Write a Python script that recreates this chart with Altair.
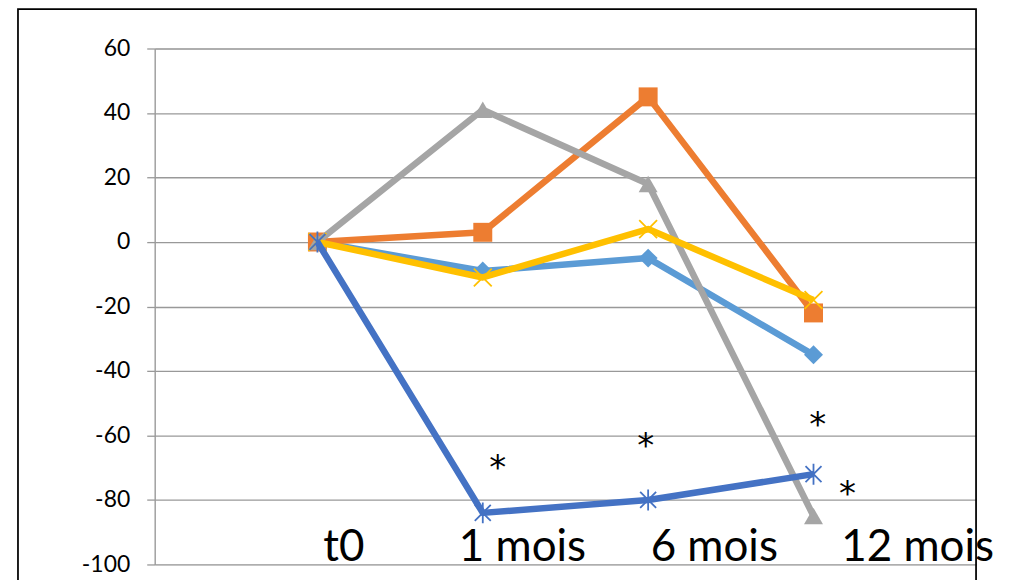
import altair as alt
import pandas as pd

# ---- data ----
categories = ["t0", "1 mois", "6 mois", "12 mois"]
cat_index = [0, 1, 2, 3]
series_names = ["Série 1", "Série 2", "Série 3", "Série 4", "Série 5"]
serie1 = [0, -9, -5, -35]     # light blue, diamond
serie2 = [0, 3, 45, -22]      # orange, square
serie3 = [0, 41, 18, -85]     # gray, triangle
serie4 = [0, -11, 4, -18]     # gold, x
serie5 = [0, -84, -80, -72]   # dark blue, star
series_values = [serie1, serie2, serie3, serie4, serie5]
colors = ["#5B9BD5", "#ED7D31", "#A5A5A5", "#FFC000", "#4472C4"]

label_x = [0.16, 1.24, 2.40, 3.63]
label_y = [-98.8, -98.8, -98.8, -98.8]
star_x = [1.09, 1.985, 3.025, 3.205]
star_y = [-73.6, -66.6, -60.1, -81.7]
y_ticks = [-100, -80, -60, -40, -20, 0, 20, 40, 60]

# ---- build tables ----
rows = []
for name, vals in zip(series_names, series_values):
    for i, c, v in zip(cat_index, categories, vals):
        rows.append({"serie": name, "idx": i, "cat": c, "val": v})
df = pd.DataFrame(rows)
labels_df = pd.DataFrame({"label": categories, "x": label_x, "y": label_y})
stars_df = pd.DataFrame({"x": star_x, "y": star_y})

FONT = "Lato"
xscale = alt.Scale(domain=[-0.984, 3.983], nice=False, zero=False)
yscale = alt.Scale(domain=[-100, 60], nice=False, zero=False)

X = alt.X("idx:Q", scale=xscale, axis=None)
Y = alt.Y("val:Q", scale=yscale,
          axis=alt.Axis(values=y_ticks, title=None, grid=True, gridColor="#999999",
                        gridWidth=1.3, domainColor="#999999", domainWidth=1.3,
                        tickColor="#999999", tickWidth=1.3, tickSize=8,
                        labelFont=FONT, labelFontSize=23, labelColor="#000000",
                        labelPadding=17, labelExpr="'' + datum.value"))

star_path = "M-0.8,-0.8L0.8,0.8M-0.8,0.8L0.8,-0.8M0,-1.05L0,1.05"
x_path = "M-1,-1L1,1M-1,1L1,-1"
markers = [
    dict(shape="diamond", size=361, filled=True, strokeWidth=0),
    dict(shape="square", size=361, filled=True, strokeWidth=0),
    dict(shape="triangle-up", size=361, filled=True, strokeWidth=0),
    dict(shape=x_path, size=320, filled=False, strokeWidth=1.8),
    dict(shape=star_path, size=400, filled=False, strokeWidth=1.8),
]

base = alt.Chart(df)
layers = []
# frame
frame = alt.Chart(alt.Data(values=[{"f": 1}])).mark_rect(
    filled=False, stroke="#000000", strokeWidth=1.75
).encode(x=alt.value(-137), x2=alt.value(823), y=alt.value(-39.5), y2=alt.value(620))
layers.append(frame)

for name, col, mk in zip(series_names, colors, markers):
    sub = base.transform_filter(alt.datum.serie == name)
    line = sub.mark_line(color=col, strokeWidth=6.5, strokeJoin="round").encode(x=X, y=Y, order="idx:Q")
    pts = sub.mark_point(color=col, opacity=1, shape=mk["shape"], size=mk["size"],
                         filled=mk["filled"], strokeWidth=mk["strokeWidth"]).encode(x=X, y=Y)
    layers += [line, pts]

xlabels = alt.Chart(labels_df).mark_text(
    font=FONT, fontSize=44, color="#000000", align="center", baseline="alphabetic"
).encode(x=alt.X("x:Q", scale=xscale, axis=None), y=alt.Y("y:Q", scale=yscale), text="label:N")

stars = alt.Chart(stars_df).mark_text(
    text="*", font="DejaVu Sans", fontSize=34, color="#000000", align="center", baseline="alphabetic"
).encode(x=alt.X("x:Q", scale=xscale, axis=None), y=alt.Y("y:Q", scale=yscale))

layers += [xlabels, stars]

chart = alt.layer(*layers).properties(
    width=823, height=517,
    autosize=alt.AutoSizeParams(type="none"),
    padding={"left": 147, "top": 40, "right": 25, "bottom": 20},
).configure_view(stroke=None).configure(background="#ffffff")

chart.save("out.html", embed_options={"renderer": "svg", "actions": False})
